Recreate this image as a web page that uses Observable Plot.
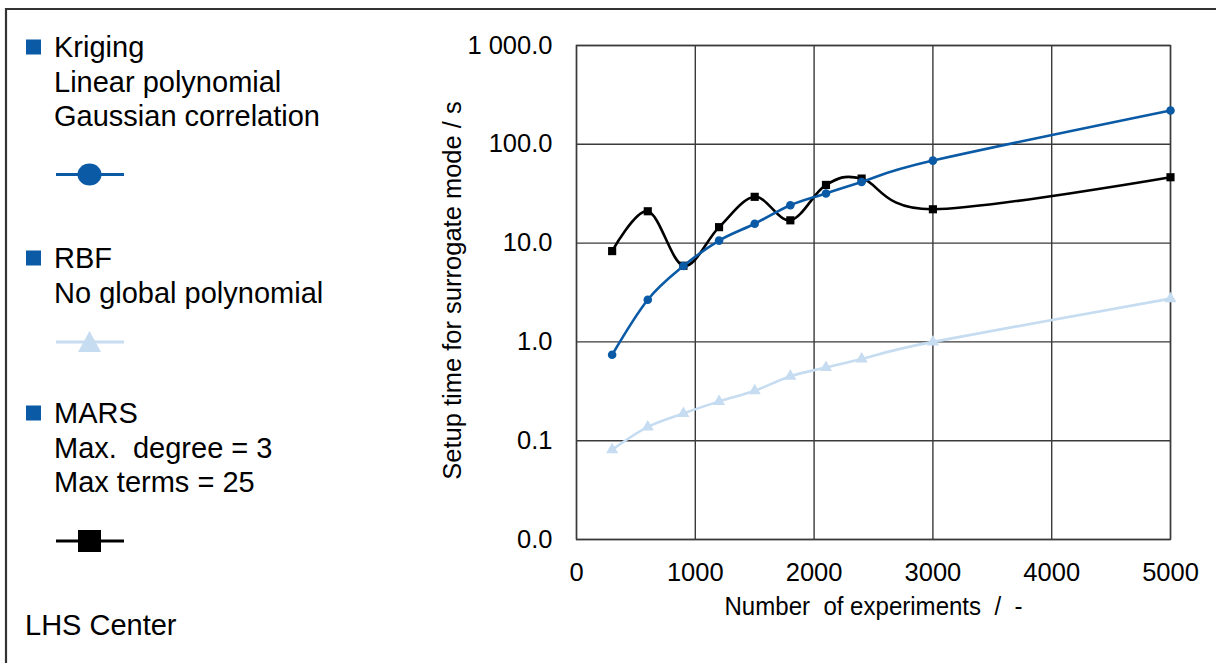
<!DOCTYPE html>
<html>
<head>
<meta charset="utf-8">
<script src="https://cdn.jsdelivr.net/npm/d3@7"></script>
<script src="https://cdn.jsdelivr.net/npm/@observablehq/plot@0.6"></script>
<style>
  html, body { margin: 0; padding: 0; background: #fff; }
  #wrap { position: relative; width: 1216px; height: 663px; overflow: hidden; font-family: "Liberation Sans", Arial, sans-serif; }
  #chart, #legend { position: absolute; left: 0; top: 0; }
  #legend { pointer-events: none; }
</style>
</head>
<body>
<div id="wrap"><div id="chart"></div><svg id="legend" width="1216" height="663"></svg></div>
<script>
// ---- data ----
const experiments = [300, 600, 900, 1200, 1500, 1800, 2100, 2400, 3000, 5000];
const kriging = [0.74, 2.67, 5.86, 10.6, 15.7, 24.2, 31.8, 41.6, 68.4, 220];
const rbf = [0.081, 0.138, 0.189, 0.25, 0.32, 0.45, 0.55, 0.67, 1.0, 2.74];
const mars = [8.3, 21, 5.9, 14.5, 29.4, 17, 38.8, 45, 22, 46.4];
const xTicks = [0, 1000, 2000, 3000, 4000, 5000];
const yTicks = [0.01, 0.1, 1, 10, 100, 1000];
const seriesNames = ["Kriging", "RBF", "MARS"];
const legendLines = [
  ["Kriging", "Linear polynomial", "Gaussian correlation"],
  ["RBF", "No global polynomial"],
  ["MARS", "Max.  degree = 3", "Max terms = 25"]
];
const xTitle = "Number  of experiments  /  -";
const yTitle = "Setup time for surrogate mode / s";
const note = "LHS Center";

const colors = {Kriging: "#0b5aa6", RBF: "#c5dcf1", MARS: "#000000"};

const rows = (name, vals) => experiments.map((n, i) => ({n, t: vals[i], s: name}));
const kData = rows("Kriging", kriging);
const rData = rows("RBF", rbf);
const mData = rows("MARS", mars);

const fmtY = d => {
  if (d < 0.05) return "0.0";
  const s = d.toFixed(1);
  const [ip, fp] = s.split(".");
  return ip.replace(/\B(?=(\d{3})+(?!\d))/g, " ") + "." + fp;
};

const gridColor = "#3a3a3a";

const chart = Plot.plot({
  width: 1216,
  height: 663,
  marginLeft: 576,
  marginRight: 46,
  marginTop: 45,
  marginBottom: 124,
  style: {fontFamily: "'Liberation Sans', Arial, sans-serif", fontSize: "25.5px", color: "#000", background: "transparent", overflow: "visible"},
  x: {domain: [0, 5000], ticks: xTicks, tickFormat: d => String(d), tickSize: 0, tickPadding: 23, label: null},
  y: {type: "log", domain: [0.01, 1000], ticks: yTicks, tickFormat: fmtY, tickSize: 0, tickPadding: 24, label: null},
  marks: [
    Plot.ruleX(xTicks, {stroke: gridColor, strokeWidth: 1.4}),
    Plot.ruleY(yTicks, {stroke: gridColor, strokeWidth: 1.4}),
    Plot.frame({stroke: gridColor, strokeWidth: 1.4}),
    Plot.line(rData, {x: "n", y: "t", stroke: colors.RBF, strokeWidth: 2.6, curve: "cardinal"}),
    Plot.dot(rData, {x: "n", y: "t", symbol: "triangle", r: 4.5, fill: colors.RBF, stroke: null}),
    Plot.line(mData, {x: "n", y: "t", stroke: colors.MARS, strokeWidth: 2.6, curve: "cardinal"}),
    Plot.dot(mData, {x: "n", y: "t", symbol: "square", r: 4.6, fill: colors.MARS, stroke: null}),
    Plot.line(kData, {x: "n", y: "t", stroke: colors.Kriging, strokeWidth: 2.6, curve: "cardinal"}),
    Plot.dot(kData, {x: "n", y: "t", symbol: "circle", r: 4.3, fill: colors.Kriging, stroke: null}),
    Plot.text([xTitle], {frameAnchor: "bottom", textAnchor: "middle", lineAnchor: "middle", dy: 67, dx: 0, fontSize: 26, fill: "#000", className: "xtitle"}),
    Plot.text([yTitle], {frameAnchor: "left", textAnchor: "middle", rotate: -90, dx: -124, dy: -2, fontSize: 25.5, fill: "#000"})
  ]
});
document.getElementById("chart").appendChild(chart);
// condense the x-axis title like the reference's narrow face
chart.querySelectorAll(".xtitle text").forEach(t => {
  t.setAttribute("textLength", 298);
  t.setAttribute("lengthAdjust", "spacingAndGlyphs");
});

// ---- legend / frame overlay ----
const svg = d3.select("#legend");
svg.append("path").attr("d", "M6,663 V9 H1216").attr("fill", "none").attr("stroke", "#333").attr("stroke-width", 2.2);
const g = svg.append("g").style("font-family", "'Liberation Sans', Arial, sans-serif").style("font-size", "29px");
const blocks = [
  {top: 47, symY: 174.5},
  {top: 258, symY: 342},
  {top: 413, symY: 541}
];
legendLines.forEach((lines, bi) => {
  const b = blocks[bi];
  const name = seriesNames[bi];
  g.append("rect").attr("x", 26).attr("y", b.top - 7.5).attr("width", 15).attr("height", 15).attr("fill", "#0b5aa6");
  lines.forEach((t, li) => {
    g.append("text").attr("x", 54).attr("y", b.top + 10 + li * 34.7).attr("fill", "#000").style("white-space", "pre").text(t);
  });
  g.append("line").attr("x1", 56).attr("x2", 124).attr("y1", b.symY).attr("y2", b.symY).attr("stroke", colors[name]).attr("stroke-width", 3);
  const cx = 89.5, cy = b.symY;
  if (name === "Kriging") g.append("ellipse").attr("cx", cx).attr("cy", cy).attr("rx", 12).attr("ry", 11).attr("fill", colors[name]);
  if (name === "RBF") g.append("path").attr("d", `M${cx},${cy - 11} L${cx + 11.5},${cy + 10} L${cx - 11.5},${cy + 10} Z`).attr("fill", colors[name]);
  if (name === "MARS") g.append("rect").attr("x", cx - 11.5).attr("y", cy - 11).attr("width", 23).attr("height", 22).attr("fill", colors[name]);
});
g.append("text").attr("x", 25).attr("y", 635).attr("fill", "#000").text(note);
</script>
</body>
</html>
